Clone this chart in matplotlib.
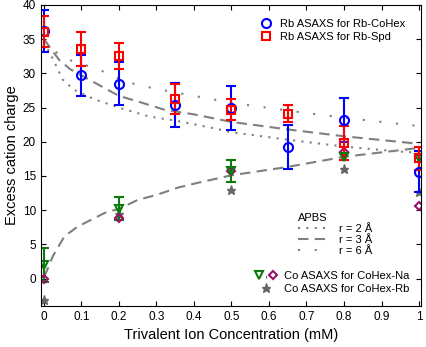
import matplotlib
matplotlib.use("Agg")
import matplotlib.pyplot as plt
from matplotlib.lines import Line2D
from matplotlib.text import Text

plt.rcParams["font.family"] = ["Liberation Sans", "DejaVu Sans"]

# Rb ASAXS data
conc = [0, 0.1, 0.2, 0.35, 0.5, 0.65, 0.8, 1.0]
rb_cohex = [36.2, 29.7, 28.5, 25.4, 24.9, 19.2, 23.2, 15.6]
rb_cohex_err = [3.1, 3.0, 3.2, 3.2, 3.2, 3.2, 3.2, 3.0]
rb_spd = [36.1, 33.6, 32.5, 26.2, 24.7, 24.1, 19.8, 17.6]
rb_spd_err = [2.3, 2.5, 1.9, 2.2, 1.5, 1.2, 2.5, 1.7]

# Co ASAXS data
co_conc = [0, 0.2, 0.5, 0.8, 1.0]
co_na_tri = [2.0, 10.2, 15.7, 17.8, 17.6]
co_na_tri_err = [2.5, 1.7, 1.6, 0.5, 0.5]
co_na_dia = [-0.1, 8.9, 15.8, 18.5, 10.6]
co_rb_star = [-3.1, 9.4, 12.9, 16.0, 12.7]

# APBS curves
rb_r2_x = [0, 0.025, 0.05, 0.08, 0.135, 0.205, 0.28, 0.36, 0.45, 0.5, 0.65, 0.8, 0.94, 1.0]
rb_r2_y = [34.6, 32.0, 29.1, 27.6, 26.2, 24.9, 23.7, 23.0, 22.0, 21.4, 20.3, 19.3, 18.6, 18.4]
rb_r3_x = [0, 0.04, 0.07, 0.13, 0.2, 0.25, 0.32, 0.4, 0.5, 0.65, 0.8, 1.0]
rb_r3_y = [35.0, 32.0, 30.6, 28.8, 26.7, 25.9, 24.7, 24.0, 22.9, 21.8, 20.8, 19.7]
rb_r6_x = [0, 0.02, 0.065, 0.145, 0.215, 0.285, 0.36, 0.43, 0.51, 0.7, 0.85, 1.0]
rb_r6_y = [34.8, 33.5, 32.0, 30.6, 28.8, 27.9, 27.1, 26.4, 25.6, 24.2, 23.2, 22.3]
co_r3_x = [0, 0.005, 0.024, 0.055, 0.09, 0.126, 0.162, 0.2, 0.25, 0.304, 0.357, 0.41, 0.5, 0.647, 0.8, 1.0]
co_r3_y = [0.3, 0.8, 3.3, 6.2, 7.6, 8.6, 9.6, 10.2, 11.5, 12.3, 13.3, 14.0, 15.1, 16.3, 17.8, 19.1]

gray = "#7f7f7f"
green = "#0a7a0a"
purple = "#99106e"


class HandlerTriDia:
    # triangle , diamond  in one legend handle
    def legend_artist(self, legend, orig_handle, fontsize, handlebox):
        x0, y0 = -handlebox.xdescent, -handlebox.ydescent
        w, h = handlebox.width, handlebox.height
        t = Line2D([x0 + w * 0.2], [y0 + h / 2], ls="none", marker="v", ms=6,
                   mfc="none", mec=green, mew=1.5)
        c = Text(x0 + w * 0.48, y0 + h * 0.1, ",", fontsize=fontsize, ha="center", va="baseline")
        d = Line2D([x0 + w * 0.8], [y0 + h / 2], ls="none", marker="D", ms=4.5,
                   mfc="none", mec=purple, mew=1.5)
        for a in (t, c, d):
            a.set_transform(handlebox.get_transform())
            handlebox.add_artist(a)
        return t


fig = plt.figure(figsize=(4.26, 3.47), dpi=100)
ax = fig.add_axes([0.096, 0.118, 0.892, 0.868])

# APBS lines
l2, = ax.plot(rb_r2_x, rb_r2_y, color=gray, lw=1.5, ls=(0, (1, 3)))
l3, = ax.plot(rb_r3_x, rb_r3_y, color=gray, lw=1.5, ls=(0, (5, 3)))
l6, = ax.plot(rb_r6_x, rb_r6_y, color=gray, lw=1.5, ls=(0, (1, 7)))
ax.plot(co_r3_x, co_r3_y, color=gray, lw=1.5, ls=(0, (5, 3)))

# Co data
hs, = ax.plot(co_conc, co_rb_star, ls="none", marker="*", ms=6.5, color="#666666")
ax.errorbar(co_conc, co_na_tri, yerr=co_na_tri_err, fmt="v", ms=6, mfc="none",
            mec=green, mew=1.5, ecolor=green, elinewidth=1.5, capsize=3.5, capthick=1.5)
ax.plot(co_conc, co_na_dia, ls="none", marker="D", ms=4.5, mfc="none", mec=purple, mew=1.5)

# Rb data
ax.errorbar(conc, rb_cohex, yerr=rb_cohex_err, fmt="o", ms=6.5, mfc="none",
            mec="#0000ff", mew=1.5, ecolor="#0000ff", elinewidth=1.5, capsize=3.5, capthick=1.5)
ax.errorbar(conc, rb_spd, yerr=rb_spd_err, fmt="s", ms=5.5, mfc="none",
            mec="#ff0000", mew=1.5, ecolor="#ff0000", elinewidth=1.5, capsize=3.5, capthick=1.5)
hb = Line2D([], [], ls="none", marker="o", ms=6.5, mfc="none", mec="#0000ff", mew=1.5)
hr = Line2D([], [], ls="none", marker="s", ms=5.5, mfc="none", mec="#ff0000", mew=1.5)

ax.set_xlim(-0.008, 1.005)
ax.set_ylim(-4, 40)
ax.set_xticks([0, 0.1, 0.2, 0.3, 0.4, 0.5, 0.6, 0.7, 0.8, 0.9, 1.0])
ax.set_xticklabels(["0", "0.1", "0.2", "0.3", "0.4", "0.5", "0.6", "0.7", "0.8", "0.9", "1"])
ax.set_yticks([0, 5, 10, 15, 20, 25, 30, 35, 40])
ax.tick_params(direction="in", top=True, right=True, length=3.5, labelsize=8.5)
ax.set_xlabel("Trivalent Ion Concentration (mM)", fontsize=10.5)
ax.set_ylabel("Excess cation charge", fontsize=10.5, labelpad=3)

leg1 = ax.legend([hb, hr], ["Rb ASAXS for Rb-CoHex", "Rb ASAXS for Rb-Spd"],
                 loc="upper left", bbox_to_anchor=(0.574, 0.952), frameon=False,
                 borderpad=0, borderaxespad=0,
                 fontsize=8, handlelength=1.2, handletextpad=0.7, labelspacing=0.27)
ax.add_artist(leg1)
leg2 = ax.legend([l2, l3, l6], ["r = 2 Å", "r = 3 Å", "r = 6 Å"], title="APBS",
                 loc="upper left", bbox_to_anchor=(0.676, 0.309), frameon=False,
                 borderpad=0, borderaxespad=0,
                 fontsize=8, title_fontsize=8, handlelength=3.0, handletextpad=0.72,
                 labelspacing=0.1)
leg2._legend_box.align = "left"
ax.add_artist(leg2)
leg3 = ax.legend(["tridia", hs], ["Co ASAXS for CoHex-Na", "Co ASAXS for CoHex-Rb"],
                 handler_map={str: HandlerTriDia()},
                 loc="upper left", bbox_to_anchor=(0.563, 0.118), frameon=False,
                 borderpad=0, borderaxespad=0,
                 fontsize=8, handlelength=2.07, handletextpad=0.54, labelspacing=0.27)

fig.savefig("out.png", dpi=100)
